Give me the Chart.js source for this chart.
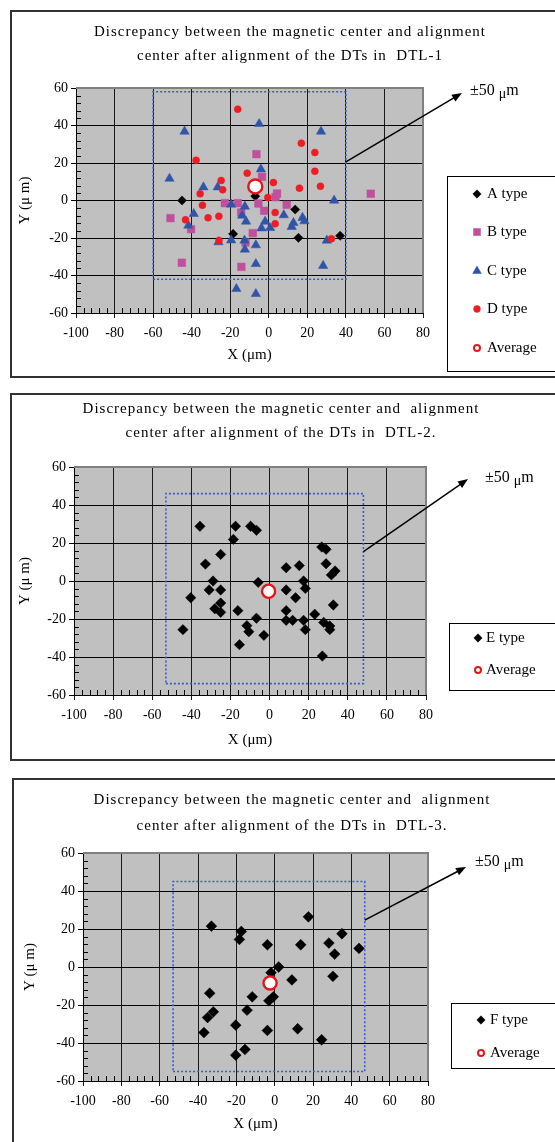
<!DOCTYPE html>
<html>
<head>
<meta charset="utf-8">
<script src="https://cdn.jsdelivr.net/npm/chart.js@4.4.1/dist/chart.umd.min.js"></script>
<style>
  html, body { margin: 0; padding: 0; background: #fff; }
  body { width: 555px; height: 1142px; position: relative; overflow: hidden; }
  .frame { position: absolute; border: 2px solid #333; box-sizing: border-box; }
  canvas { position: absolute; left: 0; }
</style>
</head>
<body>
<div class="frame" style="left:10px;top:10px;width:560px;height:368px"></div>
<div class="frame" style="left:10px;top:393px;width:560px;height:368px"></div>
<div class="frame" style="left:12px;top:778px;width:560px;height:380px"></div>
<canvas id="dtl1" width="555" height="367" style="top:10px"></canvas>
<canvas id="dtl2" width="555" height="368" style="top:393px"></canvas>
<canvas id="dtl3" width="555" height="364" style="top:778px"></canvas>
<script>
// axis ranges shared by the three panels
const xRange = [-100, 80];
const yRange = [-60, 60];

// DTL-1
const aType = [[-45, 0], [-7, 2.3], [13.7, -4.8], [-18.5, -17.8], [15.4, -19.9], [37, -18.8]];
const bType = [[-6.4, 24.7], [-3.5, 12.6], [4.3, 3.7], [3.5, 1.8], [-22.8, -1.4], [-16.1, -1.4],
  [-5.4, -1.6], [-2.4, -5.5], [9.3, -2.3], [-14.3, -6.4], [-51, -9.4], [-40.3, -15.3],
  [-8.3, -17.4], [-12.1, -22.4], [-45.1, -33.2], [-14.2, -35.4], [52.9, 3.6]];
const cType = [[-5, 40.9], [-43.7, 36.8], [27.1, 36.8], [-4.1, 16.7], [-51.5, 11.7], [-33.9, 7.1],
  [-26.5, 7.1], [33.9, 0], [-19.5, -2.1], [-12.4, -3.2], [-38.9, -7.1], [-13.8, -8],
  [7.8, -7.8], [17.5, -9.2], [-11.8, -11.2], [-1.9, -11.2], [18.5, -11], [12.8, -11.9],
  [-41.7, -13.3], [-3.8, -14.8], [0.7, -14.6], [11.9, -14], [-19.5, -21.2], [-12.6, -21.3],
  [-26.1, -22.2], [-6.7, -23.8], [-12.4, -26.1], [30.1, -21.3], [-6.7, -33.8], [28.2, -34.8],
  [-16.8, -47.1], [-6.7, -49.8]];
const dType = [[-16.1, 48.7], [16.9, 30.6], [23.9, 25.6], [-37.7, 21.5], [23.9, 15.6], [-11.2, 14.6],
  [-24.7, 10.7], [2.4, 9.6], [-23.9, 5.7], [15.9, 6.6], [26.8, 7.6], [-35.6, 3.6],
  [-0.5, 1.6], [-34.4, -2.5], [3.3, -6.4], [-31.5, -9.2], [-25.9, -8.4], [-43.2, -10.3],
  [3.3, -12.4], [-25.8, -21.3], [32.5, -20.4]];
const average1 = [-7, 7.5];
const box1X = [-60, 40];
const box1Y = [-42, 58];
const arrowFrom1 = [40, 20.6];

// DTL-2
const eType = [[-35.6, 28.8], [-17.4, 28.8], [-9.7, 28.8], [-6.7, 26.7], [-18.5, 21.9], [26.7, 17.9],
  [28.9, 16.7], [-25, 14], [-32.8, 8.9], [28.9, 9.1], [8.5, 7], [15.2, 8.1],
  [33.5, 5.3], [31.6, 3.2], [-28.9, 0], [-5.8, -0.7], [17.4, 0], [18.3, -3.9],
  [-30.9, -4.7], [-25, -4.7], [8.5, -4.7], [-40.3, -8.8], [13.3, -8.8], [-25, -11.6],
  [32.6, -12.6], [-28, -14.6], [-25, -16.5], [-16.2, -15.6], [8.5, -15.6], [23.1, -17.5],
  [-6.7, -19.6], [8.5, -20.7], [11.8, -20.7], [17.4, -20.7], [27.7, -21.8], [30.8, -23.7],
  [-11.6, -23.5], [18.3, -25.6], [30.8, -25.6], [-10.6, -26.7], [-44.3, -25.6], [-2.9, -28.6],
  [-15.4, -33.5], [27, -39.5]];
const average2 = [-0.5, -5.4];
const box2X = [-53, 48];
const box2Y = [-54, 46];
const arrowFrom2 = [48, 15.4];

// DTL-3
const fType = [[17.6, 26.4], [-33, 21.5], [-17.4, 18.7], [-18.4, 14.5], [35.1, 17.5], [28.3, 12.6],
  [-3.8, 11.7], [13.6, 11.7], [44, 9.8], [31.3, 6.8], [2.1, 0], [-1.9, -3],
  [30.4, -4.9], [9, -6.8], [-33.9, -13.8], [-11.7, -15.7], [-0.7, -15.7], [-3, -17.8],
  [-32, -23.6], [-14.4, -22.7], [-35, -26.6], [-20.3, -30.6], [-3.8, -33.4], [12, -32.5],
  [-36.9, -34.5], [24.5, -38.3], [-15.5, -43.4], [-20.3, -46.4]];
const average3 = [-2.4, -8.4];
const box3X = [-53, 47];
const box3Y = [-55, 45];
const arrowFrom3 = [47, 24.7];

const FONT = "'Liberation Serif', 'Times New Roman', serif";
Chart.defaults.font.family = FONT;
Chart.defaults.color = '#000';

const toPt = (p) => ({ x: p[0], y: p[1] });
const boxPoints = (bx, by) => [[bx[0], by[0]], [bx[1], by[0]], [bx[1], by[1]], [bx[0], by[1]], [bx[0], by[0]]].map(toPt);

const styles = {
  A: { pointStyle: 'rectRot', color: '#000000', radius: 4.6, legendRadius: 4.2 },
  B: { pointStyle: 'rect', color: '#c0509e', radius: 5.4, legendRadius: 5 },
  C: { pointStyle: 'triangle', color: '#3054a8', radius: 5.4, legendRadius: 5 },
  D: { pointStyle: 'circle', color: '#ee1c24', radius: 3.5, legendRadius: 3.4 },
  E: { pointStyle: 'rectRot', color: '#000000', radius: 5.2, legendRadius: 4.2 },
  F: { pointStyle: 'rectRot', color: '#000000', radius: 5.4, legendRadius: 4.2 },
};

const decor = {
  id: 'decor',
  beforeDraw(chart) {
    const { ctx, chartArea: a } = chart;
    ctx.save();
    ctx.fillStyle = '#c0c0c0';
    ctx.fillRect(a.left, a.top, a.right - a.left, a.bottom - a.top);
    ctx.restore();
  },
  afterDraw(chart, args, o) {
    const { ctx, chartArea: a, scales } = chart;
    const xs = scales.x, ys = scales.y;
    ctx.save();
    // gray plot border on top and right
    ctx.strokeStyle = '#808080';
    ctx.lineWidth = 2;
    ctx.beginPath();
    ctx.moveTo(a.left, a.top);
    ctx.lineTo(a.right, a.top);
    ctx.lineTo(a.right, a.bottom);
    ctx.stroke();

    // inward minor ticks
    ctx.strokeStyle = '#000';
    ctx.lineWidth = 1;
    ctx.beginPath();
    for (let v = yRange[0]; v <= yRange[1]; v += 4) {
      if (v % 20 === 0) continue;
      const py = Math.round(ys.getPixelForValue(v)) + 0.5;
      ctx.moveTo(a.left, py);
      ctx.lineTo(a.left + 5, py);
    }
    for (let v = xRange[0]; v <= xRange[1]; v += 4) {
      if (v % 20 === 0) continue;
      const px = Math.round(xs.getPixelForValue(v)) + 0.5;
      ctx.moveTo(px, a.bottom);
      ctx.lineTo(px, a.bottom - 5);
    }
    ctx.stroke();

    // title
    ctx.fillStyle = '#000';
    ctx.font = '15px ' + FONT;
    ctx.textAlign = 'center';
    ctx.textBaseline = 'middle';
    if ('letterSpacing' in ctx) ctx.letterSpacing = '1px';
    o.title.forEach((t, i) => ctx.fillText(t, o.titleX, o.titleY[i]));
    if ('letterSpacing' in ctx) ctx.letterSpacing = '0px';

    // arrow to the ±50 label
    const sx = xs.getPixelForValue(o.arrowFrom[0]);
    const sy = ys.getPixelForValue(o.arrowFrom[1]);
    const [tx, ty] = o.arrowTip;
    const ang = Math.atan2(ty - sy, tx - sx);
    ctx.strokeStyle = '#000';
    ctx.lineWidth = 1.5;
    ctx.beginPath();
    ctx.moveTo(sx, sy);
    ctx.lineTo(tx - 8 * Math.cos(ang), ty - 8 * Math.sin(ang));
    ctx.stroke();
    ctx.beginPath();
    ctx.moveTo(tx, ty);
    ctx.lineTo(tx - 10 * Math.cos(ang) + 4 * Math.sin(ang), ty - 10 * Math.sin(ang) - 4 * Math.cos(ang));
    ctx.lineTo(tx - 10 * Math.cos(ang) - 4 * Math.sin(ang), ty - 10 * Math.sin(ang) + 4 * Math.cos(ang));
    ctx.closePath();
    ctx.fillStyle = '#000';
    ctx.fill();

    ctx.textAlign = 'left';
    ctx.font = '16px ' + FONT;
    let lx = o.labelPos[0];
    ctx.fillText('±50 ', lx, o.labelPos[1]);
    lx += ctx.measureText('±50 ').width;
    ctx.font = '14px ' + FONT;
    ctx.fillText('μ', lx, o.labelPos[1] + 3);
    lx += ctx.measureText('μ').width;
    ctx.font = '16px ' + FONT;
    ctx.fillText('m', lx, o.labelPos[1]);

    // legend
    const L = o.legend;
    ctx.fillStyle = '#fff';
    ctx.fillRect(L.x, L.y, L.w, L.h);
    ctx.strokeStyle = '#000';
    ctx.lineWidth = 1;
    ctx.strokeRect(L.x + 0.5, L.y + 0.5, L.w, L.h);
    ctx.font = '15px ' + FONT;
    ctx.textBaseline = 'middle';
    L.items.forEach((it, i) => {
      const y = L.rows[i];
      ctx.save();
      ctx.fillStyle = it.fill;
      ctx.strokeStyle = it.stroke;
      ctx.lineWidth = it.borderWidth;
      Chart.helpers.drawPoint(ctx, { pointStyle: it.pointStyle, radius: it.radius, rotation: 0, borderWidth: it.borderWidth }, L.markerX, y);
      ctx.restore();
      ctx.fillStyle = '#000';
      ctx.fillText(it.label, L.textX, y);
    });
    ctx.restore();
  }
};

function buildPanel(id, p) {
  const datasets = [];
  datasets.push({
    label: 'Average', data: [toPt(p.average)], pointStyle: 'circle', pointRadius: p.avgRadius,
    backgroundColor: '#ffffff', borderColor: '#e8141c', borderWidth: 2.4,
  });
  p.series.slice().reverse().forEach((s) => {
    const st = styles[s.key];
    datasets.push({
      label: s.label, data: s.points.map(toPt), pointStyle: st.pointStyle, pointRadius: st.radius,
      backgroundColor: st.color, borderColor: st.color, borderWidth: 0.5,
    });
  });
  datasets.push({
    label: 'box', data: boxPoints(p.boxX, p.boxY), showLine: true, pointRadius: 0,
    borderColor: '#3b5cc4', borderWidth: 1.6, borderDash: [2, 2], fill: false,
  });

  const legendItems = p.series.map((s) => {
    const st = styles[s.key];
    return { label: s.label, pointStyle: st.pointStyle, radius: st.legendRadius, fill: st.color, stroke: st.color, borderWidth: 0.5 };
  });
  legendItems.push({ label: 'Average', pointStyle: 'circle', radius: 3, fill: '#ffffff', stroke: '#e8141c', borderWidth: 2 });

  const lay = p.layout;
  const xAxisH = 60;
  return new Chart(document.getElementById(id), {
    type: 'scatter',
    data: { datasets },
    plugins: [decor],
    options: {
      responsive: false,
      animation: false,
      events: [],
      layout: {
        padding: {
          left: lay.frameLeft,
          top: lay.plot.top,
          right: 555 - lay.plot.right,
          bottom: lay.height - lay.plot.bottom - xAxisH,
        },
      },
      plugins: {
        legend: { display: false },
        tooltip: { enabled: false },
        decor: {
          title: p.title, titleX: lay.titleX, titleY: lay.titleY,
          arrowFrom: p.arrowFrom, arrowTip: lay.arrowTip, labelPos: lay.labelPos,
          legend: Object.assign({ items: legendItems }, lay.legend),
        },
      },
      scales: {
        x: {
          type: 'linear', min: xRange[0], max: xRange[1],
          afterFit: (s) => { s.height = xAxisH; },
          ticks: { stepSize: 20, padding: 7, font: { size: 14 }, color: '#000', maxRotation: 0 },
          grid: { color: '#1a1a1a', lineWidth: 1, tickLength: 5, drawTicks: true },
          border: { color: '#000', width: 1 },
          title: { display: true, text: 'X (μm)', font: { size: 15 }, color: '#000', padding: { top: 0, bottom: lay.xTitlePad } },
        },
        y: {
          type: 'linear', min: yRange[0], max: yRange[1],
          afterFit: (s) => { s.width = lay.plot.left - lay.frameLeft; },
          ticks: { stepSize: 20, padding: 3, font: { size: 14 }, color: '#000' },
          grid: { color: '#000', lineWidth: 1, tickLength: 5, drawTicks: true },
          border: { color: '#000', width: 1 },
          title: { display: true, text: 'Y (μ m)', font: { size: 15 }, color: '#000', padding: { top: lay.yTitlePad, bottom: 0 } },
        },
      },
    },
  });
}

buildPanel('dtl1', {
  title: ['Discrepancy between the magnetic center and alignment', 'center after alignment of the DTs in  DTL-1'],
  series: [
    { key: 'A', label: 'A type', points: aType },
    { key: 'B', label: 'B type', points: bType },
    { key: 'C', label: 'C type', points: cType },
    { key: 'D', label: 'D type', points: dType },
  ],
  average: average1, avgRadius: 7, boxX: box1X, boxY: box1Y, arrowFrom: arrowFrom1,
  layout: {
    height: 367, frameLeft: 10, plot: { left: 76, right: 423, top: 78, bottom: 303 },
    xTitlePad: 9, yTitlePad: 6, titleX: 290, titleY: [22, 46],
    arrowTip: [462, 83], labelPos: [470, 81],
    legend: { x: 447, y: 166, w: 120, h: 195, rows: [184, 222, 261, 299, 338], markerX: 477, textX: 487 },
  },
});

buildPanel('dtl2', {
  title: ['Discrepancy between the magnetic center and  alignment', 'center after alignment of the DTs in  DTL-2.'],
  series: [{ key: 'E', label: 'E type', points: eType }],
  average: average2, avgRadius: 6.6, boxX: box2X, boxY: box2Y, arrowFrom: arrowFrom2,
  layout: {
    height: 368, frameLeft: 10, plot: { left: 74, right: 426, top: 74, bottom: 302 },
    xTitlePad: 6, yTitlePad: 6, titleX: 281, titleY: [16, 40],
    arrowTip: [468, 86], labelPos: [485, 85],
    legend: { x: 449, y: 230, w: 120, h: 67, rows: [245, 277], markerX: 478, textX: 486 },
  },
});

buildPanel('dtl3', {
  title: ['Discrepancy between the magnetic center and  alignment', 'center after alignment of the DTs in  DTL-3.'],
  series: [{ key: 'F', label: 'F type', points: fType }],
  average: average3, avgRadius: 6.6, boxX: box3X, boxY: box3Y, arrowFrom: arrowFrom3,
  layout: {
    height: 364, frameLeft: 12, plot: { left: 83, right: 428, top: 75, bottom: 303 },
    xTitlePad: 8, yTitlePad: 9, titleX: 292, titleY: [22, 48],
    arrowTip: [466, 89], labelPos: [475, 84],
    legend: { x: 451, y: 225, w: 120, h: 65, rows: [242, 275], markerX: 481, textX: 490 },
  },
});
</script>
</body>
</html>
